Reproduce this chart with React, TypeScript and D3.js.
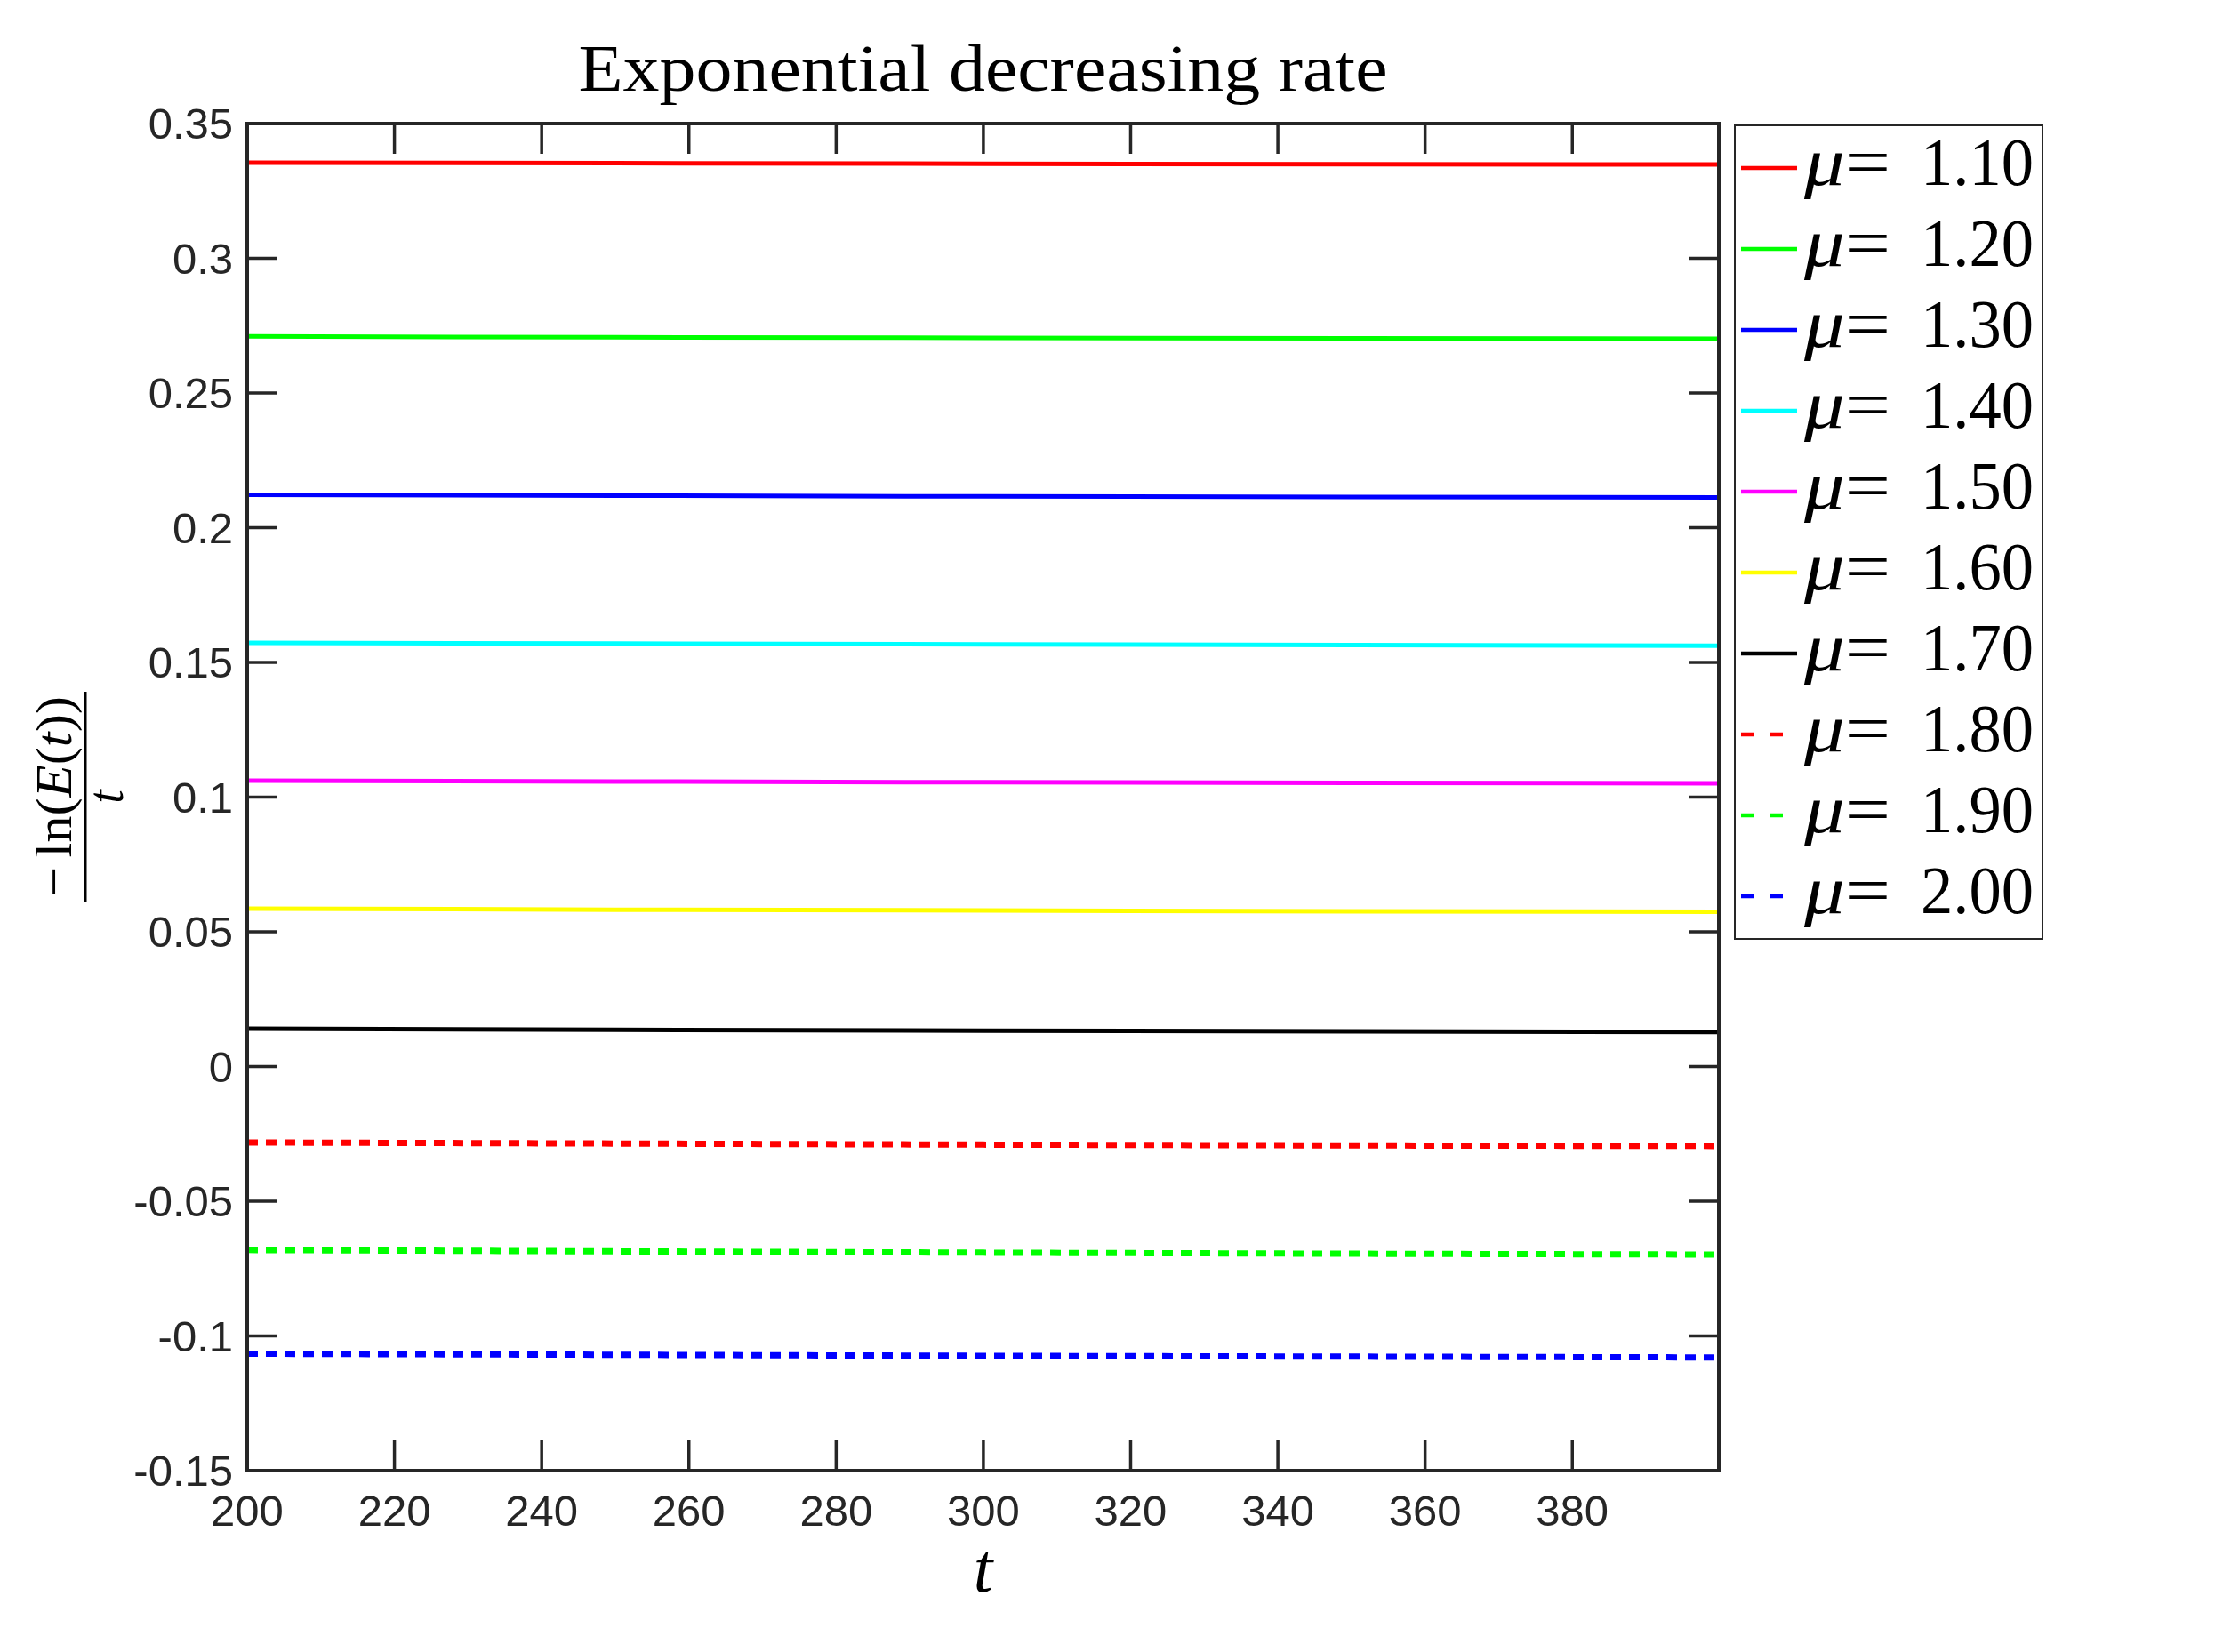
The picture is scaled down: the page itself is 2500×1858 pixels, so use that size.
import React from "react";
import * as d3 from "d3";

// ---- data ----
const tSamples = [200, 250, 300, 350, 399.9];

const mu110 = [0.3355, 0.3353, 0.3351, 0.3349, 0.3348];
const mu120 = [0.2710, 0.2707, 0.2705, 0.2703, 0.2701];
const mu130 = [0.2122, 0.2119, 0.2116, 0.2114, 0.2112];
const mu140 = [0.1573, 0.1570, 0.1567, 0.1564, 0.1562];
const mu150 = [0.1061, 0.1058, 0.1055, 0.1053, 0.1051];
const mu160 = [0.0586, 0.0582, 0.0579, 0.0576, 0.0574];
const mu170 = [0.0140, 0.0136, 0.0133, 0.0130, 0.0128];
const mu180 = [-0.0282, -0.0286, -0.0290, -0.0293, -0.0295];
const mu190 = [-0.0681, -0.0686, -0.0691, -0.0695, -0.0698];
const mu200 = [-0.1066, -0.1070, -0.1074, -0.1077, -0.1080];

const muLabels = ["1.10", "1.20", "1.30", "1.40", "1.50", "1.60", "1.70", "1.80", "1.90", "2.00"];
const seriesList = [mu110, mu120, mu130, mu140, mu150, mu160, mu170, mu180, mu190, mu200];
const seriesColors = ["#ff0000", "#00ff00", "#0000ff", "#00ffff", "#ff00ff", "#ffff00", "#000000", "#ff0000", "#00ff00", "#0000ff"];
const seriesDashed = [false, false, false, false, false, false, false, true, true, true];

const xTicks = [200, 220, 240, 260, 280, 300, 320, 340, 360, 380];
const yTicks = [-0.15, -0.1, -0.05, 0, 0.05, 0.1, 0.15, 0.2, 0.25, 0.3, 0.35];
const yTickLabels = ["-0.15", "-0.1", "-0.05", "0", "0.05", "0.1", "0.15", "0.2", "0.25", "0.3", "0.35"];
const xDomain = [200, 399.9];
const yDomain = [-0.15, 0.35];

const titleText = "Exponential decreasing rate";

// ---- layout ----
const W = 2500;
const H = 1858;
const plot = { left: 278, right: 1933, top: 139, bottom: 1654 };
const axisColor = "#262626";
const tickLen = 34;
const sans = "'Liberation Sans', Arial, Helvetica, sans-serif";
const serif = "'Liberation Serif', 'Times New Roman', serif";

export default function App() {
  const x = d3.scaleLinear().domain(xDomain).range([plot.left, plot.right]);
  const y = d3.scaleLinear().domain(yDomain).range([plot.bottom, plot.top]);
  const line = d3
    .line<number>()
    .x((_, i) => x(tSamples[i]))
    .y((v) => y(v));

  const legend = { left: 1951, top: 141, right: 2297, bottom: 1056, row0: 189, rowStep: 91 };

  return (
    <div style={{ position: "fixed", left: 0, top: 0, width: W, height: H, background: "#fff" }}>
      <svg width={W} height={H} viewBox={`0 0 ${W} ${H}`} style={{ display: "block" }}>
        <rect x={0} y={0} width={W} height={H} fill="#ffffff" />
        <defs>
          <clipPath id="plotClip">
            <rect x={plot.left} y={plot.top - 10} width={plot.right - plot.left} height={plot.bottom - plot.top + 20} />
          </clipPath>
        </defs>

        {/* title */}
        <text
          x={(plot.left + plot.right) / 2}
          y={102}
          textAnchor="middle"
          fontFamily={serif}
          fontSize={75}
          textLength={910}
          lengthAdjust="spacingAndGlyphs"
          fill="#000"
        >
          {titleText}
        </text>

        {/* data lines */}
        <g clipPath="url(#plotClip)">
          {seriesList.map((vals, i) => (
            <path
              key={i}
              d={line(vals) || ""}
              fill="none"
              stroke={seriesColors[i]}
              strokeWidth={seriesDashed[i] ? 7 : 5}
              strokeDasharray={seriesDashed[i] ? "12 9" : undefined}
            />
          ))}
        </g>

        {/* ticks */}
        <g stroke={axisColor} strokeWidth={3.5}>
          {xTicks.map((t) => (
            <g key={"xt" + t}>
              <line x1={x(t)} x2={x(t)} y1={plot.bottom} y2={plot.bottom - tickLen} />
              <line x1={x(t)} x2={x(t)} y1={plot.top} y2={plot.top + tickLen} />
            </g>
          ))}
          {yTicks.map((v) => (
            <g key={"yt" + v}>
              <line x1={plot.left} x2={plot.left + tickLen} y1={y(v)} y2={y(v)} />
              <line x1={plot.right} x2={plot.right - tickLen} y1={y(v)} y2={y(v)} />
            </g>
          ))}
        </g>

        {/* axes box */}
        <rect
          x={plot.left}
          y={plot.top}
          width={plot.right - plot.left}
          height={plot.bottom - plot.top}
          fill="none"
          stroke={axisColor}
          strokeWidth={4}
        />

        {/* tick labels */}
        <g fontFamily={sans} fontSize={49} fill={axisColor}>
          {xTicks.map((t) => (
            <text key={"xl" + t} x={x(t)} y={1716} textAnchor="middle">
              {String(t)}
            </text>
          ))}
          {yTicks.map((v, i) => (
            <text key={"yl" + v} x={262} y={y(v) + 17} textAnchor="end">
              {yTickLabels[i]}
            </text>
          ))}
        </g>

        {/* x label */}
        <text x={(plot.left + plot.right) / 2} y={1790} textAnchor="middle" fontFamily={serif} fontStyle="italic" fontSize={78} fill="#000">
          t
        </text>

        {/* y label: fraction -ln(E(t)) / t, rotated */}
        <g transform="translate(96,896) rotate(-90)" fontFamily={serif} fill="#000">
          <text x={0} y={-16} textAnchor="middle" fontSize={58} textLength={226} lengthAdjust="spacingAndGlyphs">
            <tspan>−</tspan>
            <tspan dx={10}>ln(</tspan>
            <tspan fontStyle="italic">E</tspan>
            <tspan>(</tspan>
            <tspan fontStyle="italic">t</tspan>
            <tspan>))</tspan>
          </text>
          <line x1={-118} x2={118} y1={0} y2={0} stroke="#000" strokeWidth={3} />
          <text x={0} y={42} textAnchor="middle" fontSize={56} fontStyle="italic">
            t
          </text>
        </g>

        {/* legend */}
        <rect
          x={legend.left}
          y={legend.top}
          width={legend.right - legend.left}
          height={legend.bottom - legend.top}
          fill="#fff"
          stroke={axisColor}
          strokeWidth={2}
        />
        {muLabels.map((lab, i) => {
          const ly = legend.row0 + i * legend.rowStep;
          return (
            <g key={"lg" + i}>
              <line
                x1={1958}
                x2={seriesDashed[i] ? 2006 : 2021}
                y1={ly}
                y2={ly}
                stroke={seriesColors[i]}
                strokeWidth={4.5}
                strokeDasharray={seriesDashed[i] ? "15 17" : undefined}
              />
              <text x={2029} y={ly + 19} fontFamily={serif} fontSize={76} fill="#000" textLength={97} lengthAdjust="spacingAndGlyphs">
                <tspan fontStyle="italic">μ</tspan>
                <tspan>=</tspan>
              </text>
              <text x={2160} y={ly + 19} fontFamily={serif} fontSize={76} fill="#000" textLength={127} lengthAdjust="spacingAndGlyphs">
                {lab}
              </text>
            </g>
          );
        })}
      </svg>
    </div>
  );
}
